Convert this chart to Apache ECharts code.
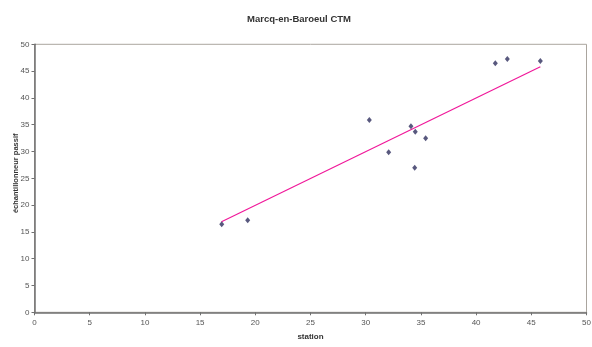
<!DOCTYPE html>
<html><head><meta charset="utf-8">
<script src="https://cdn.jsdelivr.net/npm/echarts@6/dist/echarts.min.js"></script>
<style>html,body{margin:0;padding:0;background:#fff}#c{width:592px;height:347px}</style>
</head><body><div id="c"></div>
<script>
const title = 'Marcq-en-Baroeul CTM';
const xName = 'station';
const yName = 'échantillonneur passif';
const stationValues = [16.96, 19.31, 30.33, 32.08, 34.1, 34.49, 34.44, 35.43, 41.74, 42.83, 45.82];
const passiveValues = [16.42, 17.16, 35.88, 29.85, 34.7, 33.69, 26.98, 32.46, 46.46, 47.26, 46.88];
// trendline end points
const trendX = [16.94, 45.82];
const trendY = [16.9, 45.82];

const chart = echarts.init(document.getElementById('c'));
const font = 'Arial, "Liberation Sans", sans-serif';
chart.setOption({
  animation:false,
  title:{text:title,left:242,top:9,textStyle:{fontFamily:font,fontSize:9.5,fontWeight:'bold',color:'#333'}},
  grid:{left:34.5,right:5.5,top:44.3,bottom:34.7,outerBoundsMode:'none',containLabel:false,show:true,borderColor:'#aaa59e',borderWidth:1,backgroundColor:'#fff'},
  xAxis:{type:'value',min:0,max:50,interval:5,name:xName,nameLocation:'middle',nameGap:20,nameMoveOverlap:false,
    nameTextStyle:{fontFamily:font,fontSize:8,fontWeight:'bold',color:'#333'},
    axisLine:{onZero:false,lineStyle:{color:'#707070',width:1.5}},axisTick:{show:true,length:3,lineStyle:{color:'#707070'}},
    axisLabel:{fontFamily:font,fontSize:8,color:'#555',margin:6},splitLine:{show:false}},
  yAxis:{type:'value',min:0,max:50,interval:5,name:yName,nameLocation:'middle',nameGap:15,nameMoveOverlap:false,
    nameTextStyle:{fontFamily:font,fontSize:7.5,fontWeight:'bold',color:'#333',padding:[0,0,0,10]},
    axisLine:{onZero:false,lineStyle:{color:'#707070',width:1.5}},axisTick:{show:true,length:3,lineStyle:{color:'#707070'}},
    axisLabel:{fontFamily:font,fontSize:8,color:'#555',margin:5},splitLine:{show:false}},
  series:[
    {type:'line',data:trendX.map((x,i)=>[x,trendY[i]]),symbol:'none',lineStyle:{color:'#f0189a',width:1.2},z:2},
    {type:'scatter',data:stationValues.map((x,i)=>[x,passiveValues[i]]),symbol:'diamond',symbolSize:[5,6],itemStyle:{color:'#2e2e5e'},z:3}
  ]
});
</script></body></html>
